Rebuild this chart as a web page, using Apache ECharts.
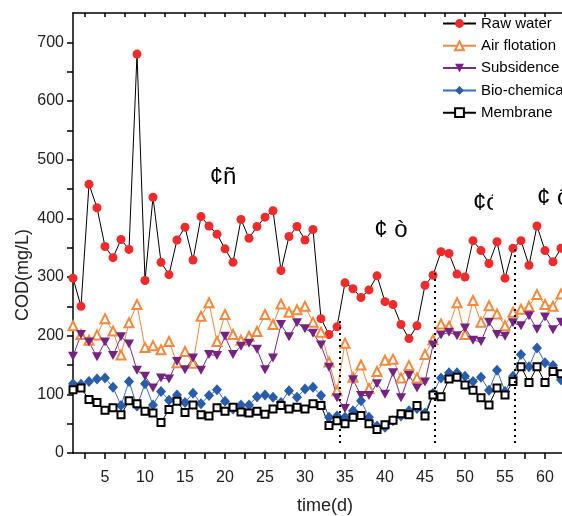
<!DOCTYPE html>
<html>
<head>
<meta charset="utf-8">
<script src="https://cdn.jsdelivr.net/npm/echarts@6/dist/echarts.min.js"></script>
<style>
  html, body { margin: 0; padding: 0; background: #fff; overflow: hidden; }
  /* the original figure is cropped on its right edge, so the chart runs past the window */
  #chart { width: 577px; height: 516px; }
</style>
</head>
<body>
<div id="chart"></div>
<script>
// day index 1..62
const days = Array.from({ length: 62 }, (_, i) => i + 1);

const rawWater = [298, 250, 458, 418, 352, 333, 364, 347, 680, 294,
  436, 325, 304, 363, 385, 329, 403, 387, 373, 348,
  325, 398, 366, 386, 402, 413, 311, 369, 386, 363,
  381, 229, 202, 215, 290, 280, 265, 278, 302, 258,
  253, 219, 195, 217, 286, 303, 343, 340, 305, 300,
  362, 345, 323, 360, 298, 349, 362, 320, 387, 345,
  326, 349];
const airFlotation = [217, 202, 192, 201, 229, 208, 167, 222, 253, 180,
  183, 176, 190, 154, 173, 153, 233, 256, 190, 236,
  202, 192, 199, 207, 236, 219, 254, 240, 244, 250,
  223, 206, 155, 106, 187, 129, 150, 110, 139, 158,
  160, 128, 149, 128, 168, 193, 220, 216, 256, 202,
  260, 223, 251, 237, 217, 240, 245, 250, 270, 253,
  250, 271];
const subsidence = [165, 202, 189, 164, 189, 166, 198, 186, 141, 131,
  111, 128, 126, 156, 142, 162, 141, 168, 166, 199,
  168, 182, 187, 177, 142, 162, 219, 198, 222, 212,
  204, 184, 146, 94, 76, 125, 98, 98, 118, 100,
  137, 94, 132, 111, 121, 184, 201, 206, 200, 213,
  192, 190, 223, 202, 199, 222, 217, 234, 211, 232,
  210, 223];
const bioChemical = [118, 117, 122, 126, 128, 112, 81, 122, 80, 118,
  82, 105, 90, 99, 86, 102, 84, 98, 108, 88,
  75, 82, 82, 96, 99, 95, 86, 106, 95, 109,
  112, 98, 61, 63, 61, 72, 89, 61, 46, 44,
  55, 63, 72, 76, 68, 102, 128, 137, 137, 131,
  122, 129, 107, 141, 105, 131, 168, 147, 179, 154,
  149, 125];
const membrane = [108, 111, 91, 86, 73, 77, 65, 89, 84, 71,
  68, 52, 74, 88, 69, 82, 65, 63, 77, 71,
  78, 70, 68, 71, 66, 75, 81, 75, 78, 75,
  84, 81, 47, 55, 50, 61, 64, 50, 40, 48,
  56, 67, 65, 81, 63, 99, 96, 126, 129, 116,
  107, 94, 82, 111, 99, 122, 147, 120, 147, 120,
  139, 135];

// stage boundaries (dotted lines): day, top value, bottom value
const stageDays = [34.3, 46.25, 56.25];
const stageTops = [230, 309, 349];
const stageBottom = 17;
const stageNames = ['¢ñ', '¢ ò', '¢ó', '¢ ô'];

const xLabels = [5, 10, 15, 20, 25, 30, 35, 40, 45, 50, 55, 60];
const xTicks = [];
for (let t = 2.5; t <= 63; t += 2.5) xTicks.push(t);
const yLabels = [0, 100, 200, 300, 400, 500, 600, 700];
const yTicks = [0, 50, 100, 150, 200, 250, 300, 350, 400, 450, 500, 550, 600, 650, 700];

const sans = "'Liberation Sans', Arial, sans-serif";

const pairs = (vals) => days.map((d, i) => [d, vals[i]]);

const chart = echarts.init(document.getElementById('chart'), null, { renderer: 'canvas' });

const axisLine = { lineStyle: { color: '#000', width: 1.5 } };

chart.setOption({
  animation: false,
  backgroundColor: '#fff',
  grid: { left: 73, right: 0, top: 13, bottom: 63, outerBoundsMode: 'none', containLabel: false },
  xAxis: [{
    type: 'value',
    min: 1,
    max: 64,
    name: 'time(d)',
    nameLocation: 'middle',
    nameGap: 44,
    nameTextStyle: { fontFamily: sans, fontSize: 18, color: '#222' },
    axisLine,
    axisTick: { customValues: xTicks, length: 6, lineStyle: { color: '#000', width: 1.5 } },
    axisLabel: { customValues: xLabels, fontFamily: sans, fontSize: 16, color: '#222', margin: 17 },
    splitLine: { show: false },
  }, {
    type: 'value',
    position: 'top',
    min: 1,
    max: 64,
    axisLine,
    axisTick: { customValues: xTicks, inside: true, length: 4, lineStyle: { color: '#000', width: 1.5 } },
    axisLabel: { show: false },
    splitLine: { show: false },
  }],
  yAxis: {
    type: 'value',
    min: 0,
    max: 750,
    axisLine: { show: true, lineStyle: { color: '#000', width: 1.5 } },
    axisTick: { show: true, customValues: yTicks, length: 6, lineStyle: { color: '#000', width: 1.5 } },
    axisLabel: { customValues: yLabels, fontFamily: sans, fontSize: 16, color: '#222', margin: 9 },
    splitLine: { show: false },
  },
  legend: {
    orient: 'vertical',
    left: 442,
    top: 15,
    padding: 0,
    itemWidth: 33,
    itemHeight: 11,
    itemGap: 5.3,
    selectedMode: false,
    textStyle: { fontFamily: sans, fontSize: 15, lineHeight: 17, color: '#000' },
    data: ['Raw water', 'Air flotation', 'Subsidence', 'Bio-chemical', 'Membrane'],
  },
  graphic: [
    {
      type: 'text', x: 23, y: 275, rotation: Math.PI / 2,
      style: { text: 'COD(mg/L)', fontFamily: sans, fontSize: 18, fill: '#222', align: 'center', verticalAlign: 'middle' },
    },
    { type: 'text', x: 223, y: 177, z: 1, style: { text: stageNames[0], fontFamily: sans, fontSize: 24, fill: '#000', align: 'center', verticalAlign: 'middle' } },
    { type: 'text', x: 391, y: 230, z: 1, style: { text: stageNames[1], fontFamily: sans, fontSize: 24, fill: '#000', align: 'center', verticalAlign: 'middle' } },
    { type: 'text', x: 473, y: 203, z: 1, style: { text: stageNames[2], fontFamily: sans, fontSize: 24, fill: '#000', align: 'left', verticalAlign: 'middle' } },
    { type: 'rect', z: 2, shape: { x: 493, y: 185, width: 18, height: 38 }, style: { fill: '#fff' } },
    { type: 'text', x: 537, y: 198, z: 1, style: { text: stageNames[3], fontFamily: sans, fontSize: 24, fill: '#000', align: 'left', verticalAlign: 'middle' } },
  ],
  series: [
    {
      name: 'Raw water',
      type: 'line',
      data: pairs(rawWater),
      symbol: 'circle',
      symbolSize: 9,
      lineStyle: { color: '#000', width: 1 },
      itemStyle: { color: '#ef2b2b' },
      markLine: {
        silent: true,
        symbol: 'none',
        label: { show: false },
        lineStyle: { color: '#000', type: [2, 4], width: 2 },
        data: stageDays.map((d, i) => [{ coord: [d, stageBottom] }, { coord: [d, stageTops[i]] }]),
      },
    },
    {
      name: 'Air flotation',
      type: 'line',
      data: pairs(airFlotation),
      symbol: 'emptyTriangle',
      symbolSize: 9,
      lineStyle: { color: '#f7883c', width: 1 },
      itemStyle: { color: '#f7883c', borderWidth: 1 },
    },
    {
      name: 'Subsidence',
      type: 'line',
      data: pairs(subsidence),
      symbol: 'path://M0,0 L10,0 L5,9 Z',
      symbolSize: [10, 9],
      lineStyle: { color: '#7a2e88', width: 1 },
      itemStyle: { color: '#742480' },
    },
    {
      name: 'Bio-chemical',
      type: 'line',
      data: pairs(bioChemical),
      symbol: 'diamond',
      symbolSize: [10, 11],
      lineStyle: { color: '#3a6cc0', width: 1 },
      itemStyle: { color: '#2a5cac' },
    },
    {
      name: 'Membrane',
      type: 'line',
      data: pairs(membrane),
      symbol: 'emptyRect',
      symbolSize: 7,
      lineStyle: { color: '#000', width: 1 },
      itemStyle: { color: '#000', borderWidth: 1 },
    },
  ],
});
</script>
</body>
</html>
